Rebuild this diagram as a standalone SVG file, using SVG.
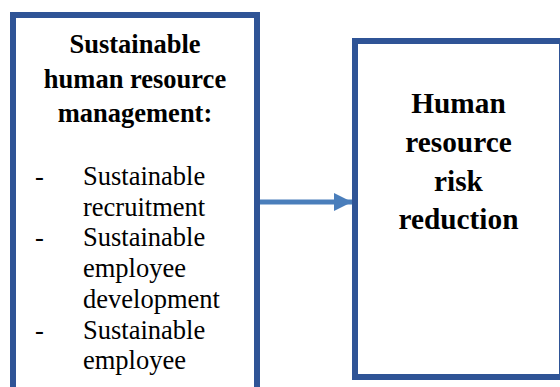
<svg xmlns="http://www.w3.org/2000/svg" width="560" height="387" viewBox="0 0 560 387">
<style>
.box{fill:#ffffff;stroke:#2F5496;stroke-width:6}
.t{font-family:"Liberation Serif","Times New Roman",serif;fill:#000}
.b{font-weight:bold}
.conn{stroke:#4A7EBB;stroke-width:5;fill:none}
</style>
<defs>
<marker id="ah" markerUnits="userSpaceOnUse" markerWidth="20" markerHeight="20" refX="18" refY="9" orient="auto">
<path d="M0,0 L18,9 L0,18 Z" fill="#4A7EBB"/>
</marker>
</defs>
<rect width="560" height="387" fill="#ffffff"/>
<g id="node-shrm">
<rect class="box" x="13" y="15" width="244" height="400"/>
<g class="t b" font-size="26.5" text-anchor="middle">
<text x="135" y="53">Sustainable</text>
<text x="135" y="87.5">human resource</text>
<text x="135" y="122">management:</text>
</g>
<g class="t" font-size="26.5">
<text x="35" y="185">-</text>
<text x="83" y="185">Sustainable</text>
<text x="83" y="215.7">recruitment</text>
<text x="35" y="246.4">-</text>
<text x="83" y="246.4">Sustainable</text>
<text x="83" y="277.1">employee</text>
<text x="83" y="307.8">development</text>
<text x="35" y="338.5">-</text>
<text x="83" y="338.5">Sustainable</text>
<text x="83" y="369.2">employee</text>
</g>
</g>
<g id="node-risk">
<rect class="box" x="355" y="41" width="207" height="336"/>
<g class="t b" font-size="29.3" text-anchor="middle">
<text x="458.5" y="113.3">Human</text>
<text x="458.5" y="151.8">resource</text>
<text x="458.5" y="190.5">risk</text>
<text x="458.5" y="229.2">reduction</text>
</g>
</g>
<g id="connectors">
<line class="conn" x1="260" y1="202" x2="352" y2="202" marker-end="url(#ah)"/>
</g>
</svg>
